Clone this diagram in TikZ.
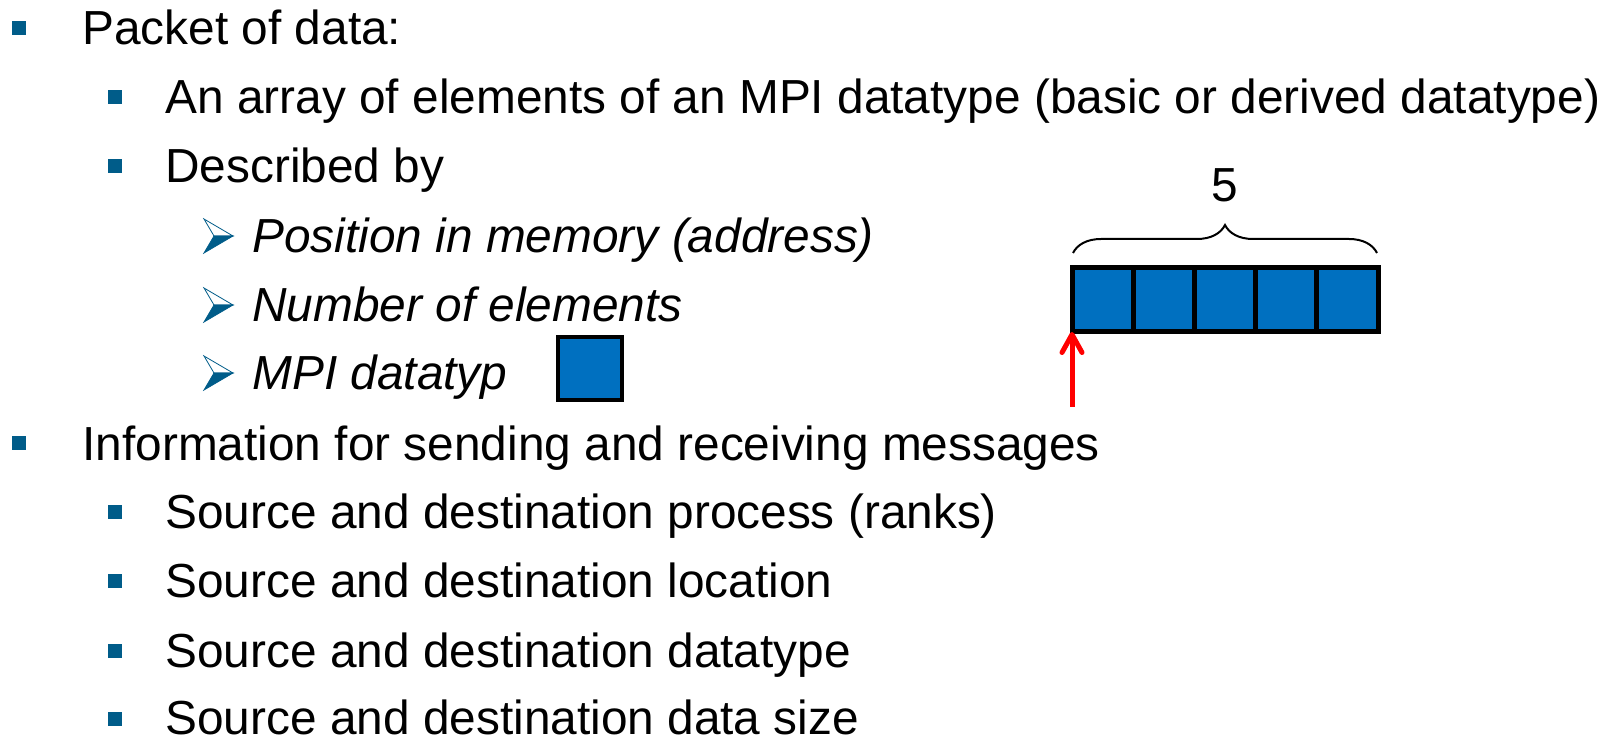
\documentclass[tikz,border=0pt]{standalone}
\usepackage{fontspec}
\setmainfont{Liberation Sans}
\usepackage{xcolor}
\usetikzlibrary{arrows.meta,positioning,decorations.pathreplacing}
\definecolor{bulletblue}{RGB}{0,92,137}
\definecolor{cellblue}{RGB}{0,112,192}

\begin{document}
\begin{tikzpicture}[x=0.5pt, y=-0.5pt,
  txt/.style={anchor=base west, inner sep=0pt, font=\fontsize{23.9}{28}\selectfont},
  sub/.style={anchor=base west, inner sep=0pt, font=\fontsize{23.9}{28}\selectfont\itshape},
  sqbullet/.style={fill=bulletblue, inner sep=0pt, minimum size=7pt},
  cell/.style={draw=black, fill=cellblue, line width=2.5pt, minimum width=30.6pt, minimum height=32pt, inner sep=0pt, outer sep=0pt},
  addrarrow/.style={red, line width=2.5pt, -{Straight Barb[length=9pt,width=10pt,line width=2.5pt,round]}},
  chevron/.pic={
    \filldraw[draw=bulletblue, fill=white, line width=0.4pt] (0,-17) -- (29,0) -- (10,0) -- cycle;
    \filldraw[draw=bulletblue, fill=bulletblue, line width=0.4pt] (10,0) -- (29,0) -- (0,17) -- cycle;
  }
]
\useasboundingbox (0,0) rectangle (1616,737);

% Packet of data
\node[sqbullet] (b1) at (19,28) {};
\node[txt] (packet) at (82,45) {Packet of data:};
\node[sqbullet] (b2) at (115,97) {};
\node[txt] (array) at (165,114) {An array of elements of an MPI datatype (basic or derived datatype)};
\node[sqbullet] (b3) at (115,166) {};
\node[txt] (descr) at (165,183) {Described by};

% Level 3
\pic (ch1) at (204,236) {chevron};
\node[sub] (pos) at (252,253) {Position in memory (address)};
\pic (ch2) at (204,305) {chevron};
\node[sub] (num) at (252,322) {Number of elements};
\pic (ch3) at (204,373) {chevron};
\node[sub] (dtype) at (252,390) {MPI datatyp};
\node[cell, line width=2.2pt, minimum width=32pt, minimum height=31.5pt] (single) at (590,368.5) {};

% Information for messages
\node[sqbullet] (b4) at (19,443) {};
\node[txt] (info) at (82,460) {Information for sending and receiving messages};
\node[sqbullet] (b5) at (115,512) {};
\node[txt] (src1) at (165,528) {Source and destination process (ranks)};
\node[sqbullet] (b6) at (115,581) {};
\node[txt] (src2) at (165,597) {Source and destination location};
\node[sqbullet] (b7) at (115,651) {};
\node[txt] (src3) at (165,667) {Source and destination datatype};
\node[sqbullet] (b8) at (115,719) {};
\node[txt] (src4) at (165,734) {Source and destination data size};

% Buffer of 5 elements
\node[cell] (c1) at (1102.6,300) {};
\node[cell] (c2) at (1163.8,300) {};
\node[cell] (c3) at (1225,300) {};
\node[cell] (c4) at (1286.2,300) {};
\node[cell] (c5) at (1347.4,300) {};

% Count brace
\coordinate (brl) at (1073,253);
\coordinate (brr) at (1377,253);
\draw[decorate, decoration={brace, amplitude=14pt}, line width=1pt] (brl) -- (brr);
\node[anchor=base, inner sep=0pt, font=\fontsize{23.9}{28}\selectfont] (count) at (1225,202) {5};

% Start address
\coordinate (addr) at (1072,407);
\draw[addrarrow] (addr) -- (addr |- c1.south west);

\end{tikzpicture}
\end{document}
